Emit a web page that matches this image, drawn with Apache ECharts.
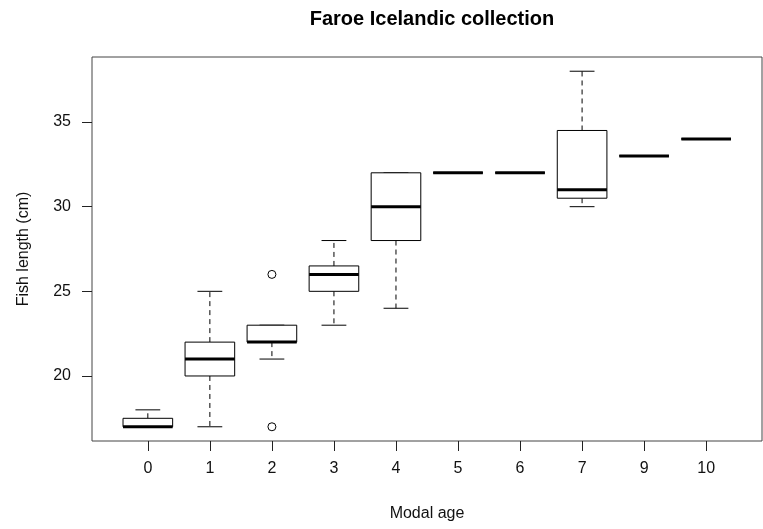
<!DOCTYPE html>
<html>
<head>
<meta charset="utf-8">
<script src="https://cdn.jsdelivr.net/npm/echarts@6/dist/echarts.min.js"></script>
<style>html,body{margin:0;padding:0;background:#fff}#c{width:763px;height:529px}</style>
</head>
<body>
<div id="c"></div>
<script>
var categories = ['0','1','2','3','4','5','6','7','9','10'];
var lowWhisker = [17, 17, 21, 23, 24, 32, 32, 30, 33, 34];
var q1 =         [17, 20, 22, 25, 28, 32, 32, 30.5, 33, 34];
var median =     [17, 21, 22, 26, 30, 32, 32, 31, 33, 34];
var q3 =         [17.5, 22, 23, 26.5, 32, 32, 32, 34.5, 33, 34];
var highWhisker = [18, 25, 23, 28, 32, 32, 32, 38, 33, 34];
var outlierCats = ['2', '2'];
var outlierVals = [26, 17];
var yTicks = [20, 25, 30, 35];

var FONT = '"Liberation Sans", Arial, sans-serif';
var boxData = categories.map(function (c, i) {
  return [i + 1, lowWhisker[i], q1[i], median[i], q3[i], highWhisker[i]];
});
var outData = outlierCats.map(function (c, i) {
  return [categories.indexOf(c) + 1, outlierVals[i]];
});
var pos = categories.map(function (c, i) { return i + 1; });

function renderBox(params, api) {
  var x = api.value(0);
  var lo = api.value(1), a = api.value(2), m = api.value(3), b = api.value(4), hi = api.value(5);
  function P(xx, yy) { return api.coord([xx, yy]); }
  var hw = 0.4, cw = 0.2;
  var ln = { stroke: '#000', lineWidth: 1, fill: null };
  var dash = { stroke: '#000', lineWidth: 1, lineDash: [5, 4], fill: null };
  var children = [];
  var pA = P(x - hw, b), pB = P(x + hw, a);
  children.push({ type: 'line', shape: { x1: P(x, b)[0], y1: P(x, b)[1], x2: P(x, hi)[0], y2: P(x, hi)[1] }, style: dash });
  children.push({ type: 'line', shape: { x1: P(x, a)[0], y1: P(x, a)[1], x2: P(x, lo)[0], y2: P(x, lo)[1] }, style: dash });
  children.push({ type: 'line', shape: { x1: P(x - cw, hi)[0], y1: P(x - cw, hi)[1], x2: P(x + cw, hi)[0], y2: P(x + cw, hi)[1] }, style: ln });
  children.push({ type: 'line', shape: { x1: P(x - cw, lo)[0], y1: P(x - cw, lo)[1], x2: P(x + cw, lo)[0], y2: P(x + cw, lo)[1] }, style: ln });
  children.push({ type: 'rect', shape: { x: pA[0], y: pA[1], width: pB[0] - pA[0], height: pB[1] - pA[1] }, style: { stroke: '#000', lineWidth: 1, fill: '#fff' } });
  children.push({ type: 'line', shape: { x1: P(x - hw, m)[0], y1: P(x - hw, m)[1], x2: P(x + hw, m)[0], y2: P(x + hw, m)[1] }, style: { stroke: '#000', lineWidth: 3 } });
  return { type: 'group', children: children };
}

var chart = echarts.init(document.getElementById('c'), null, { renderer: 'canvas' });
chart.setOption({
  animation: false,
  backgroundColor: '#fff',
  title: {
    text: 'Faroe Icelandic collection',
    left: 427, top: 4, textAlign: 'center',
    textStyle: { fontFamily: FONT, fontSize: 20, fontWeight: 'bold', color: '#000' }
  },
  grid: { left: 92, right: 1, top: 57, bottom: 88, show: true, borderColor: '#444', borderWidth: 1, backgroundColor: 'transparent' },
  xAxis: {
    type: 'value', min: 0.1, max: 10.9,
    name: 'Modal age', nameLocation: 'middle', nameGap: 65,
    nameTextStyle: { fontFamily: FONT, fontSize: 16, color: '#111' },
    splitLine: { show: false },
    axisLine: { show: false },
    axisTick: { show: true, length: 10, customValues: pos, lineStyle: { color: '#222' } },
    axisLabel: { customValues: pos, margin: 20, fontFamily: FONT, fontSize: 16, color: '#111',
      formatter: function (v) { return categories[Math.round(v) - 1]; } }
  },
  yAxis: {
    type: 'value', min: 16.16, max: 38.84,
    name: 'Fish length (cm)', nameLocation: 'middle', nameGap: 60, nameRotate: 90,
    nameTextStyle: { fontFamily: FONT, fontSize: 16, color: '#111' },
    splitLine: { show: false },
    axisLine: { show: false },
    axisTick: { show: true, length: 10, customValues: yTicks, lineStyle: { color: '#222' } },
    axisLabel: { customValues: yTicks, margin: 21, fontFamily: FONT, fontSize: 16, color: '#111' }
  },
  series: [
    { type: 'custom', renderItem: renderBox, data: boxData, encode: { x: 0, y: [1, 2, 3, 4, 5] }, clip: false, z: 2 },
    { type: 'scatter', data: outData, symbol: 'circle', symbolSize: 8, z: 3,
      itemStyle: { color: '#fff', borderColor: '#000', borderWidth: 1, opacity: 1 } }
  ]
});
</script>
</body>
</html>
